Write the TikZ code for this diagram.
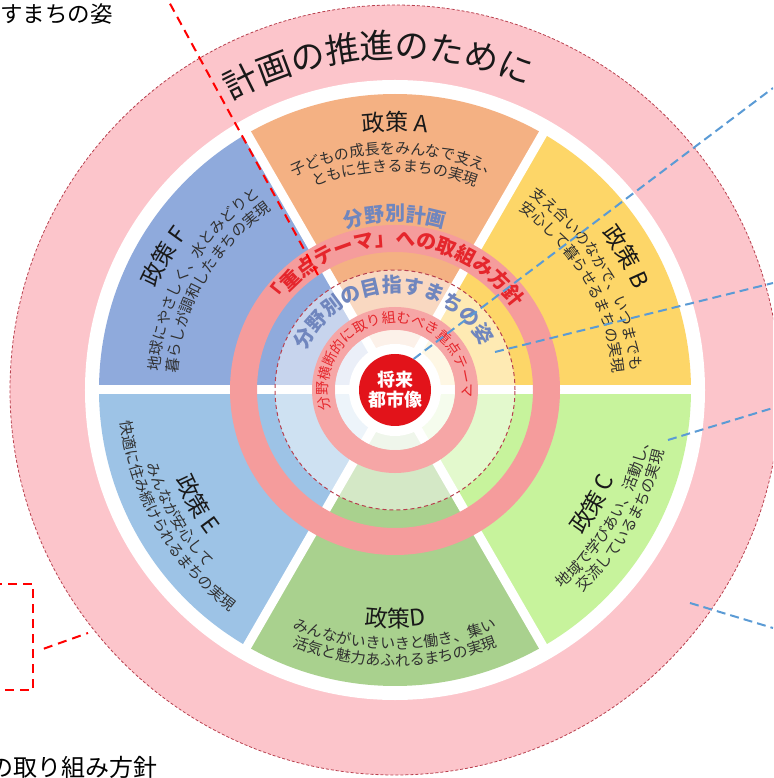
\documentclass[tikz,border=0pt]{standalone}
\usepackage{fontspec}
\newfontfamily\jpfont{Noto Sans CJK JP}
\usetikzlibrary{decorations.text}

\definecolor{ringpink}{HTML}{FCC5CB}
\definecolor{ringedge}{HTML}{B8404E}
\definecolor{themepink}{HTML}{F59C9C}
\definecolor{corered}{HTML}{E2131A}
\definecolor{polA}{HTML}{F4B183}
\definecolor{polB}{HTML}{FDD668}
\definecolor{polC}{HTML}{C7F39C}
\definecolor{polD}{HTML}{A9D18E}
\definecolor{polE}{HTML}{9DC3E6}
\definecolor{polF}{HTML}{8FAADC}
\definecolor{planblue}{HTML}{7086BE}
\definecolor{themered}{HTML}{E5262C}
\definecolor{linkblue}{HTML}{5B9BD5}
\definecolor{inktext}{HTML}{303030}

\newcommand{\outerfont}{\jpfont\fontsize{34}{38}\selectfont\color{black!90}}
\newcommand{\titlefont}{\jpfont\fontsize{23}{26}\selectfont\color{black!90}}
\newcommand{\linefont}{\jpfont\fontsize{15}{17}\selectfont\color{inktext}}
\newcommand{\themefont}{\jpfont\bfseries\fontsize{20}{22}\selectfont\color{themered}}
\newcommand{\planfont}{\jpfont\bfseries\fontsize{20}{22}\selectfont\color{planblue}}
\newcommand{\crossfont}{\jpfont\fontsize{14}{16}\selectfont\color{themered}}

% radius, start angle, end angle, format, text
\newcommand{\ringtext}[5]{%
  \path [decorate, decoration={text along path, text align=center, text={|#4|#5}}]
    (#2:#1) arc [start angle=#2, end angle=#3, radius=#1];}

\tikzset{
  redlink/.style={red, line width=2pt, dash pattern=on 9pt off 6pt},
  bluelink/.style={linkblue, line width=2pt, dash pattern=on 9pt off 5pt},
}

\begin{document}
\begin{tikzpicture}[x=1pt, y=1pt]
\useasboundingbox (-395,-388) rectangle (378,390);
\clip (-395,-388) rectangle (378,390);

% outer ring
\fill [ringpink] (0,0) circle [radius=385];
\draw [ringedge, line width=0.8pt, dash pattern=on 3pt off 2pt] (0,0) circle [radius=385];
\fill [white] (0,0) circle [radius=310];

% policy sectors
\foreach \a/\c in {60/polA, 0/polB, -60/polC, 240/polD, 180/polE, 120/polF}
  \fill [\c] (0,0) -- (\a:296) arc [start angle=\a, delta angle=60, radius=296] -- cycle;
\foreach \a in {0,60,...,300}
  \draw [white, line width=9pt] (0,0) -- (\a:300);

% inner rings
\fill [white, opacity=0.5] (0,0) circle [radius=120];
\draw [ringedge, line width=1pt, dash pattern=on 4pt off 3pt] (0,0) circle [radius=120];
\fill [themepink, even odd rule] (0,0) circle [radius=165] (0,0) circle [radius=138];
\fill [themepink!90!white, even odd rule] (0,0) circle [radius=83] (0,0) circle [radius=60];
\fill [white, opacity=0.65] (0,0) circle [radius=60];
\fill [white] (0,0) circle [radius=46];
\node [circle, fill=corered, minimum size=72pt, inner sep=0pt, text=white, align=center,
  font=\jpfont\bfseries\fontsize{18}{20}\selectfont] (core) at (0,0) {将来\\都市像};

% ring texts
\ringtext{332}{143}{43}{\outerfont}{計画の推進のために}
\ringtext{169}{120}{60}{\planfont}{分野別計画}
\ringtext{144.5}{160}{20}{\themefont}{「重点テーマ」への取組み方針}
\ringtext{97.4}{171.5}{11.5}{\planfont}{分野別の目指すまちの姿}
\ringtext{67}{205}{-15}{\crossfont}{分野横断的に取り組むべき重点テーマ}

% policy A, B, F
\ringtext{259.3}{118}{62}{\titlefont}{政策 A}
\ringtext{236.3}{118}{62}{\linefont}{子どもの成長をみんなで支え、}
\ringtext{218.3}{118}{62}{\linefont}{ともに生きるまちの実現}
\ringtext{259.3}{58}{2}{\titlefont}{政策 B}
\ringtext{236.3}{58}{2}{\linefont}{支え合いのなかで、いつまでも}
\ringtext{218.3}{58}{2}{\linefont}{安心して暮らせるまちの実現}
\ringtext{259.3}{178}{122}{\titlefont}{政策 F}
\ringtext{236.3}{178}{122}{\linefont}{地球にやさしく、水とみどりと}
\ringtext{218.3}{178}{122}{\linefont}{暮らしが調和したまちの実現}

% policy C, D, E
\ringtext{237}{-58}{-2}{\titlefont}{政策 C}
\ringtext{259}{-58}{-2}{\linefont}{地域で学びあい、活動し、}
\ringtext{276}{-58}{-2}{\linefont}{交流しているまちの実現}
\ringtext{237}{242}{298}{\titlefont}{政策D}
\ringtext{259}{242}{298}{\linefont}{みんながいきいきと働き、集い}
\ringtext{276}{242}{298}{\linefont}{活気と魅力あふれるまちの実現}
\ringtext{237}{182}{238}{\titlefont}{政策 E}
\ringtext{259}{182}{238}{\linefont}{みんなが安心して}
\ringtext{276}{182}{238}{\linefont}{快適に住み続けられるまちの実現}

% side texts
\node [anchor=base west, inner sep=0pt, font=\jpfont\fontsize{22.5}{24}\selectfont] (vision) at (-395,367) {すまちの姿};
\node [anchor=base west, inner sep=0pt, font=\jpfont\fontsize{24}{26}\selectfont] (policy) at (-406,-386) {の取り組み方針};
\node [draw=red, line width=2pt, dash pattern=on 9pt off 6pt, minimum width=43pt, minimum height=106pt] (box) at (-383.5,-247) {};

% connectors
\coordinate (theme-pt) at (-77,115);
\coordinate (top-end) at (-227,390);
\coordinate (outer-pt) at (-307,-243);
\coordinate (vision-end) at (100,38);
\coordinate (polC-end) at (273,-50);
\coordinate (ring-pt) at (295,-213);
\coordinate (b1) at (378,302);
\coordinate (b2) at (378,107);
\coordinate (b3) at (378,-18);
\coordinate (b4) at (378,-238);

\draw [redlink] (theme-pt) -- (top-end);
\draw [redlink, shorten <=10.5pt] (box.-34) -- (outer-pt);
\draw [bluelink] (core.59) -- (b1);
\draw [bluelink] (vision-end) -- (b2);
\draw [bluelink] (polC-end) -- (b3);
\draw [bluelink] (ring-pt) -- (b4);

\end{tikzpicture}
\end{document}
